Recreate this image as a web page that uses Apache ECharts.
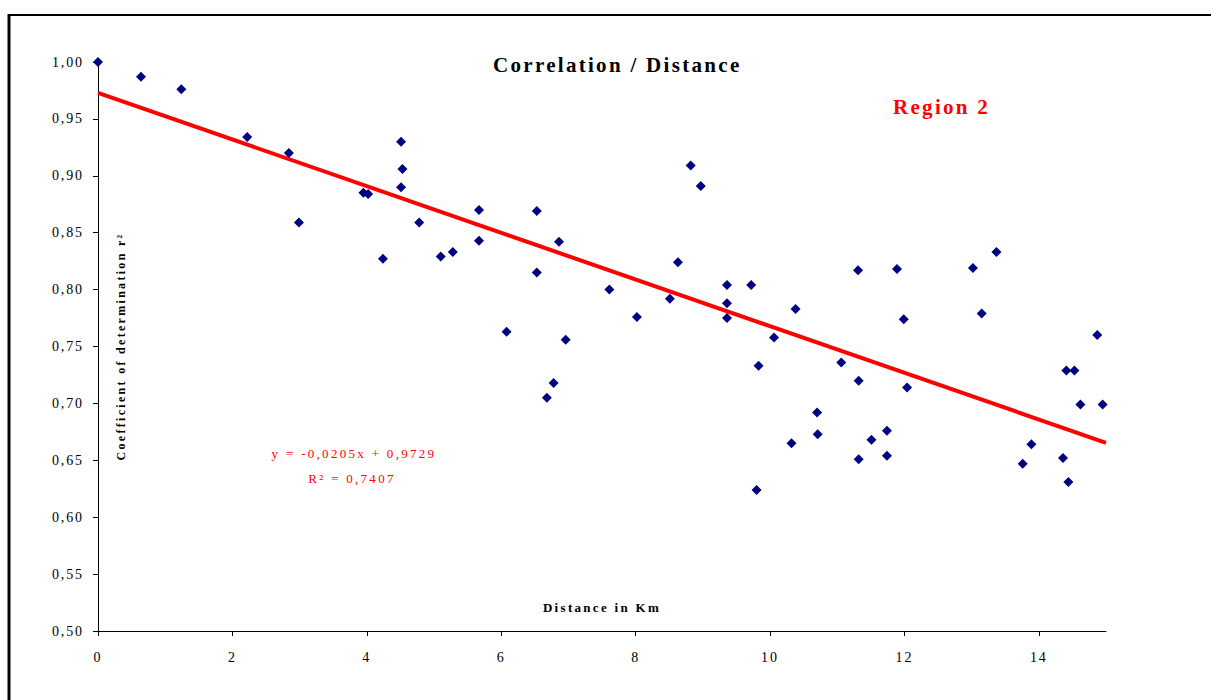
<!DOCTYPE html>
<html>
<head>
<meta charset="utf-8">
<script src="https://cdn.jsdelivr.net/npm/echarts@6/dist/echarts.min.js"></script>
<style>
  html, body { margin: 0; padding: 0; background: #fff; }
  #chart { width: 1211px; height: 700px; }
  #chart svg text { letter-spacing: 2.3px; }
  #chart svg text[style*="14px"] { letter-spacing: 1.9px; }
</style>
</head>
<body>
<div id="chart"></div>
<script>
// Distance in km
const distKm = [0.00, 0.64, 1.24, 2.22, 2.84, 2.99, 3.95, 4.02, 4.24, 4.51, 4.53, 4.51, 4.78, 5.10, 5.28, 5.67, 5.67, 6.08, 6.53, 6.53,
  6.68, 6.78, 6.86, 6.96, 7.61, 8.02, 8.51, 8.63, 8.82, 8.97, 9.36, 9.36, 9.36, 9.72, 9.80, 9.83, 10.06, 10.32, 10.38, 10.70,
  10.71, 11.06, 11.31, 11.32, 11.32, 11.51, 11.74, 11.74, 11.89, 11.99, 12.04, 13.02, 13.15, 13.37, 13.76, 13.89, 14.36, 14.41, 14.44, 14.53,
  14.62, 14.87, 14.95];
// Coefficient of determination r²
const r2Values = [1.000, 0.987, 0.976, 0.934, 0.920, 0.859, 0.885, 0.884, 0.827, 0.930, 0.906, 0.890, 0.859, 0.829, 0.833, 0.870, 0.843, 0.763, 0.869, 0.815,
  0.705, 0.718, 0.842, 0.756, 0.800, 0.776, 0.792, 0.824, 0.909, 0.891, 0.804, 0.788, 0.775, 0.804, 0.624, 0.733, 0.758, 0.665, 0.783, 0.692,
  0.673, 0.736, 0.817, 0.720, 0.651, 0.668, 0.676, 0.654, 0.818, 0.774, 0.714, 0.819, 0.779, 0.833, 0.647, 0.664, 0.652, 0.729, 0.631, 0.729,
  0.699, 0.760, 0.699];
// Linear trendline endpoints (y = -0,0205x + 0,9729)
const trendX = [0, 15];
const trendY = [0.9729, 0.6654];
// Axis ticks
const xTicks = [0, 2, 4, 6, 8, 10, 12, 14];
const yTicks = [0.50, 0.55, 0.60, 0.65, 0.70, 0.75, 0.80, 0.85, 0.90, 0.95, 1.00];
// Texts
const chartTitle = 'Correlation / Distance';
const regionLabel = 'Region 2';
const equationText = 'y = -0,0205x + 0,9729';
const rSquaredText = 'R\u00B2 = 0,7407';
const xName = 'Distance in Km';
const yName = 'Coefficient of determination r\u00B2';

const serif = "'Liberation Serif', 'Times New Roman', serif";
const fmt = v => v.toFixed(2).replace('.', ',');

const chart = echarts.init(document.getElementById('chart'), null, { renderer: 'svg' });
chart.setOption({
  animation: false,
  backgroundColor: '#ffffff',
  title: {
    text: chartTitle,
    left: 493,
    top: 54,
    padding: 0,
    textStyle: { fontFamily: serif, fontSize: 21, fontWeight: 'bold', color: '#000' }
  },
  grid: { left: 98, right: 105, top: 62, bottom: 69, containLabel: false },
  xAxis: {
    type: 'value',
    min: 0, max: 15,
    name: xName,
    nameLocation: 'middle',
    nameGap: -24,
    nameTextStyle: { fontFamily: serif, fontSize: 13, fontWeight: 'bold', color: '#000', verticalAlign: 'middle' },
    splitLine: { show: false },
    axisLine: { show: true, onZero: false, lineStyle: { color: '#000', width: 1 } },
    axisTick: { show: true, inside: false, length: 5, customValues: xTicks, lineStyle: { color: '#000' } },
    axisLabel: { customValues: xTicks, margin: 19, fontFamily: serif, fontSize: 14, color: '#000', formatter: v => String(v) }
  },
  yAxis: {
    type: 'value',
    min: 0.5, max: 1.0,
    name: yName,
    nameLocation: 'middle',
    nameRotate: 90,
    nameGap: -23,
    nameTextStyle: { fontFamily: serif, fontSize: 12, fontWeight: 'bold', color: '#000', verticalAlign: 'middle', align: 'center' },
    splitLine: { show: false },
    axisLine: { show: true, onZero: false, lineStyle: { color: '#000', width: 1 } },
    axisTick: { show: true, inside: false, length: 5, customValues: yTicks, lineStyle: { color: '#000' } },
    axisLabel: { customValues: yTicks, margin: 14, fontFamily: serif, fontSize: 14, color: '#000', formatter: fmt }
  },
  series: [
    {
      type: 'line',
      data: trendX.map((x, i) => [x, trendY[i]]),
      showSymbol: false,
      symbol: 'none',
      lineStyle: { color: '#ff0000', width: 4 },
      z: 2,
      silent: true
    },
    {
      type: 'scatter',
      data: distKm.map((x, i) => [x, r2Values[i]]),
      symbol: 'diamond',
      symbolSize: [10, 10],
      itemStyle: { color: '#000080', opacity: 1 },
      z: 3
    }
  ],
  graphic: [
    { type: 'line', shape: { x1: 9, y1: 14, x2: 9, y2: 720 }, style: { stroke: '#000', lineWidth: 3 } },
    { type: 'line', shape: { x1: 8, y1: 15, x2: 1230, y2: 15 }, style: { stroke: '#000', lineWidth: 2 } },
    { type: 'text', x: 893, y: 107, style: { text: regionLabel, fill: '#ff0000', font: "bold 21px 'Liberation Serif'", textAlign: 'left', textVerticalAlign: 'middle' } },
    { type: 'text', x: 354, y: 453, style: { text: equationText, fill: '#ff0000', font: "13px 'Liberation Serif'", textAlign: 'center', textVerticalAlign: 'middle' } },
    { type: 'text', x: 352, y: 478, style: { text: rSquaredText, fill: '#ff0000', font: "13px 'Liberation Serif'", textAlign: 'center', textVerticalAlign: 'middle' } }
  ]
});
</script>
</body>
</html>
